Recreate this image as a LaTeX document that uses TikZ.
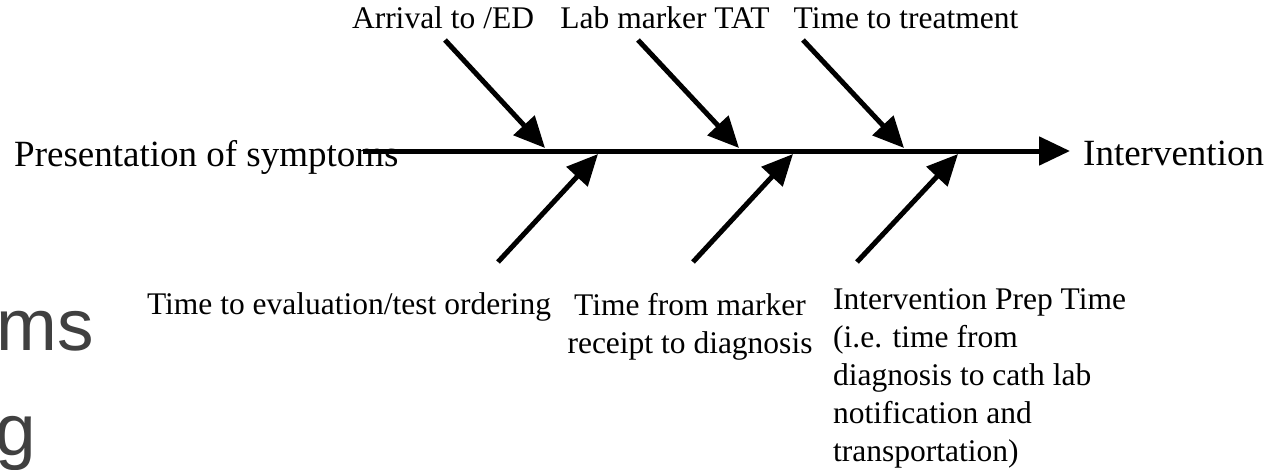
\documentclass[tikz,border=0pt]{standalone}
\usepackage{fontspec}
\setmainfont{Liberation Serif}
\setsansfont{Liberation Sans}
\usetikzlibrary{arrows.meta}

\begin{document}
\begin{tikzpicture}[x=1pt, y=-1pt,
    bone/.style={line width=5pt, -{Triangle[length=31pt, width=28pt]}},
    cause/.style={font=\fontsize{31.5}{38}\selectfont, inner sep=0pt},
    endlbl/.style={font=\fontsize{37}{40}\selectfont, inner sep=0pt},
    slide/.style={font=\sffamily\fontsize{73}{105}\selectfont, text=black!75, inner sep=0pt}]

    % Page frame
    \clip (0,0) rectangle (1269,469);

    % Left-over slide text
    \node[slide, anchor=base east] (slideA) at (94,350) {ms};
    \node[slide, anchor=base east] (slideB) at (36,455) {g};

    % Head and tail of the spine
    \node[endlbl, anchor=base west] (pres) at (14,166) {Presentation of symptoms};
    \node[endlbl, anchor=base west] (interv) at (1083,165) {Intervention};
    \coordinate (spineL) at (363,151);
    \coordinate (spineR) at (1070,151);

    % Upper causes
    \node[cause, anchor=base] (arrival) at (443,28) {Arrival to /ED};
    \node[cause, anchor=base] (labtat) at (665,28) {Lab marker TAT};
    \node[cause, anchor=base] (treat) at (906,28) {Time to treatment};

    % Lower causes
    \node[cause, anchor=base] (evalord) at (349,314) {Time to evaluation/test ordering};
    \node[cause, anchor=north, align=center] (diag) at (690,293) {Time from marker\\receipt to diagnosis};
    \node[cause, anchor=north west, align=left] (prep) at (833,288)
        {Intervention Prep Time\\(i.e. time from\\diagnosis to cath lab\\notification and\\transportation)};

    % Bone ends
    \coordinate (a1) at (445,40);  \coordinate (a2) at (545,148);
    \coordinate (b1) at (638,40);  \coordinate (b2) at (739,148);
    \coordinate (c1) at (803,40);  \coordinate (c2) at (904,148);
    \coordinate (d1) at (498,262); \coordinate (d2) at (598,154);
    \coordinate (e1) at (693,262); \coordinate (e2) at (793,154);
    \coordinate (f1) at (857,262); \coordinate (f2) at (958,154);

    % Draw Spine
    \draw[bone] (spineL) -- (spineR);

    % Draw Bones
    \draw[bone] (a1) -- (a2);
    \draw[bone] (b1) -- (b2);
    \draw[bone] (c1) -- (c2);
    \draw[bone] (d1) -- (d2);
    \draw[bone] (e1) -- (e2);
    \draw[bone] (f1) -- (f2);

\end{tikzpicture}
\end{document}
